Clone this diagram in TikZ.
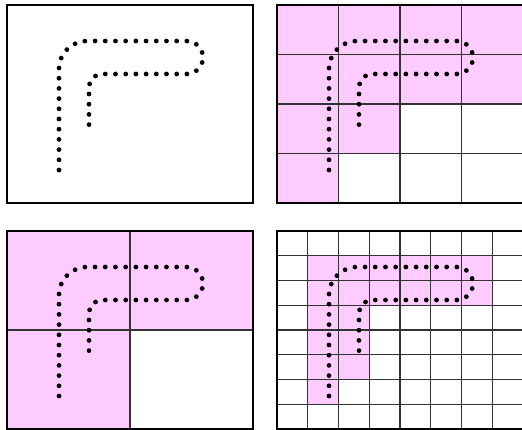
\documentclass[tikz,border=0pt]{standalone}
\usepackage{xcolor}
\usepackage{tikz}
\usetikzlibrary{positioning}
\definecolor{cellpink}{RGB}{255,204,255}

% the dotted hook, relative to a panel's top left corner
\newcommand{\hookpath}{(52,165) -- (52,64) arc[start angle=180,end angle=270,radius=28]
  -- (179.5,36) arc[start angle=-90,end angle=90,radius=16.5]
  -- (95,69) arc[start angle=270,end angle=180,radius=13] -- (82,128)}

\begin{document}
\begin{tikzpicture}[x=1pt,y=-1pt,
  panel/.style={draw=black,line width=1.8pt},
  gridline/.style={draw=black!80,line width=1.1pt},
  trail/.style={draw=black,line width=4.8pt,line cap=round,dash pattern=on 0pt off 10.2pt}]
\clip (0,0) rectangle (522,430);
\fill[white] (0,0) rectangle (522,430);

% plain panel
\begin{scope}[shift={(7,5)}]
\draw[panel] (0,0) rectangle (246,198);
\draw[trail] \hookpath;
\end{scope}

% 4 x 4 cells
\begin{scope}[shift={(277,5)}]
\fill[cellpink] (0,0) -- (246,0) -- (246,99) -- (123,99) -- (123,148.5)
  -- (61.5,148.5) -- (61.5,198) -- (0,198) -- cycle;
\foreach \i in {1,...,3} {
  \draw[gridline] (\i*61.5,0) -- (\i*61.5,198);
  \draw[gridline] (0,\i*49.5) -- (246,\i*49.5);
}
\draw[panel] (0,0) rectangle (246,198);
\draw[trail] \hookpath;
\end{scope}

% 2 x 2 cells
\begin{scope}[shift={(7,231)}]
\fill[cellpink] (0,0) -- (246,0) -- (246,99) -- (123,99) -- (123,198)
  -- (0,198) -- cycle;
\draw[gridline] (123,0) -- (123,198);
\draw[gridline] (0,99) -- (246,99);
\draw[panel] (0,0) rectangle (246,198);
\draw[trail] \hookpath;
\end{scope}

% 8 x 8 cells
\begin{scope}[shift={(277,231)}]
\fill[cellpink] (30.75,24.75) -- (215.25,24.75) -- (215.25,74.25) -- (92.25,74.25)
  -- (92.25,148.5) -- (61.5,148.5) -- (61.5,173.25) -- (30.75,173.25) -- cycle;
\foreach \i in {1,...,7} {
  \draw[gridline] (\i*30.75,0) -- (\i*30.75,198);
  \draw[gridline] (0,\i*24.75) -- (246,\i*24.75);
}
\draw[panel] (0,0) rectangle (246,198);
\draw[trail] \hookpath;
\end{scope}
\end{tikzpicture}
\end{document}
